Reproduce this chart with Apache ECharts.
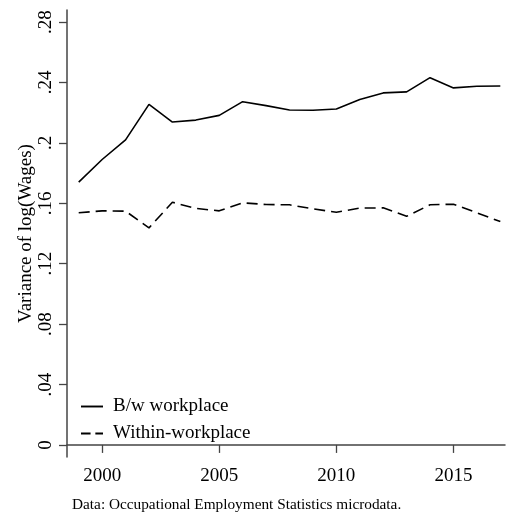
<!DOCTYPE html>
<html>
<head>
<meta charset="utf-8">
<script src="https://cdn.jsdelivr.net/npm/echarts@6/dist/echarts.min.js"></script>
<style>
  html, body { margin: 0; padding: 0; background: #fff; }
  #main { width: 507px; height: 514px; }
</style>
</head>
<body>
<div id="main"></div>
<script>
// values
var years = [1999, 2000, 2001, 2002, 2003, 2004, 2005, 2006, 2007, 2008,
             2009, 2010, 2011, 2012, 2013, 2014, 2015, 2016, 2017];
var betweenWorkplace = [0.174, 0.189, 0.202, 0.2255, 0.2138, 0.2151, 0.2182, 0.2273, 0.2247, 0.2218,
                        0.2216, 0.2224, 0.2287, 0.2331, 0.2338, 0.2432, 0.2364, 0.2375, 0.2377];
var withinWorkplace = [0.1537, 0.155, 0.1548, 0.1437, 0.1607, 0.1566, 0.155, 0.1603, 0.1592, 0.159,
                       0.1563, 0.1541, 0.1568, 0.157, 0.1514, 0.159, 0.1594, 0.1537, 0.1479];
var xTicks = [2000, 2005, 2010, 2015];
var yTicks = [0, 0.04, 0.08, 0.12, 0.16, 0.2, 0.24, 0.28];
var yTickLabels = ['0', '.04', '.08', '.12', '.16', '.2', '.24', '.28'];

var font = '"Liberation Serif", "Times New Roman", serif';

// legend keys: a solid bar and a two-dash bar
var solidIcon = 'path://M0,0 L23,0 L23,2 L0,2 Z';
var dashIcon = 'path://M0,0 L10,0 L10,2 L0,2 Z M15,0 L23,0 L23,2 L15,2 Z';

function pairs(xs, ys) {
    return xs.map(function (x, i) { return [x, ys[i]]; });
}

var myChart = echarts.init(document.getElementById('main'));

var option = {
    animation: false,
    backgroundColor: '#fff',
    textStyle: { fontFamily: font, color: '#000' },
    title: {
        text: 'Data: Occupational Employment Statistics microdata.',
        left: 72,
        top: 497,
        padding: 0,
        textStyle: { fontFamily: font, fontSize: 15.3, fontWeight: 'normal', color: '#000' }
    },
    legend: {
        orient: 'vertical',
        left: 81,
        top: 397,
        padding: 0,
        itemWidth: 22,
        itemHeight: 2,
        itemGap: 8,
        itemStyle: { color: '#000', borderWidth: 0 },
        textStyle: { fontFamily: font, fontSize: 19, color: '#000', padding: [0, 0, 0, 5] },
        data: [
            { name: 'B/w workplace', icon: solidIcon },
            { name: 'Within-workplace', icon: dashIcon }
        ]
    },
    grid: {
        left: 67,
        right: 2,
        top: 10,
        bottom: 57
    },
    xAxis: {
        type: 'value',
        min: 1998.5,
        max: 2017.2,
        splitLine: { show: false },
        axisLine: { lineStyle: { color: '#444', width: 1.5 } },
        axisTick: {
            length: 8,
            customValues: xTicks,
            lineStyle: { color: '#444', width: 1.3 }
        },
        axisLabel: {
            margin: 10,
            customValues: xTicks,
            fontFamily: font,
            fontSize: 19,
            color: '#000',
            formatter: function (v) { return String(v); }
        }
    },
    yAxis: {
        type: 'value',
        min: -0.008,
        max: 0.288,
        name: 'Variance of log(Wages)',
        nameLocation: 'middle',
        nameGap: 31,
        nameMoveOverlap: false,
        nameTextStyle: { fontFamily: font, fontSize: 19, color: '#000' },
        splitLine: { show: false },
        axisLine: { show: true, lineStyle: { color: '#444', width: 1.5 } },
        axisTick: {
            show: true,
            length: 8,
            customValues: yTicks,
            lineStyle: { color: '#444', width: 1.3 }
        },
        axisLabel: {
            rotate: 90,
            margin: 11,
            customValues: yTicks,
            fontFamily: font,
            fontSize: 19,
            color: '#000',
            formatter: function (v) {
                var i = yTicks.findIndex(function (t) { return Math.abs(t - v) < 1e-9; });
                return i >= 0 ? yTickLabels[i] : '';
            }
        }
    },
    series: [
        {
            name: 'B/w workplace',
            type: 'line',
            symbol: 'none',
            lineStyle: { color: '#000', width: 1.6 },
            itemStyle: { color: '#000' },
            data: pairs(years, betweenWorkplace)
        },
        {
            name: 'Within-workplace',
            type: 'line',
            symbol: 'none',
            lineStyle: { color: '#000', width: 1.6, type: [11, 6] },
            itemStyle: { color: '#000' },
            data: pairs(years, withinWorkplace)
        }
    ]
};

myChart.setOption(option);
</script>
</body>
</html>
